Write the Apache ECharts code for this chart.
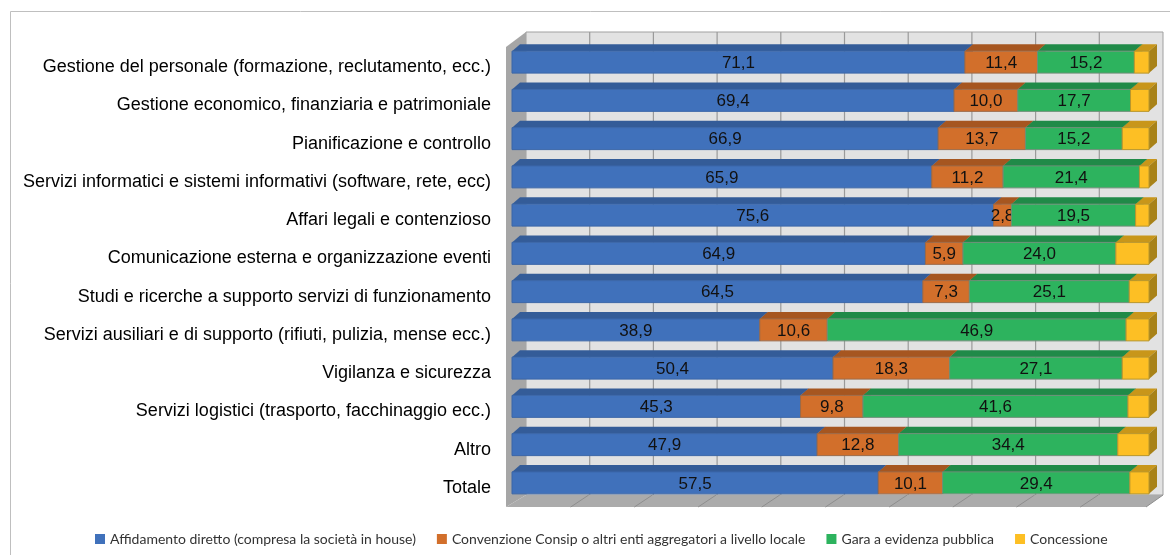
<!DOCTYPE html>
<html><head><meta charset="utf-8">
<script src="https://cdn.jsdelivr.net/npm/echarts@6/dist/echarts.min.js"></script>
<style>html,body{margin:0;padding:0;background:#fff}#c{width:1170px;height:555px}</style>
</head><body><div id="c"></div>
<script>
const categories = [
  "Gestione del personale (formazione, reclutamento, ecc.)",
  "Gestione economico, finanziaria e patrimoniale",
  "Pianificazione e controllo",
  "Servizi informatici e sistemi informativi (software, rete, ecc)",
  "Affari legali e contenzioso",
  "Comunicazione esterna e organizzazione eventi",
  "Studi e ricerche a supporto servizi di funzionamento",
  "Servizi ausiliari e di supporto (rifiuti, pulizia, mense ecc.)",
  "Vigilanza e sicurezza",
  "Servizi logistici (trasporto, facchinaggio ecc.)",
  "Altro",
  "Totale"
];
const affidamento = [71.1, 69.4, 66.9, 65.9, 75.6, 64.9, 64.5, 38.9, 50.4, 45.3, 47.9, 57.5];
const convenzione = [11.4, 10.0, 13.7, 11.2, 2.8, 5.9, 7.3, 10.6, 18.3, 9.8, 12.8, 10.1];
const gara        = [15.2, 17.7, 15.2, 21.4, 19.5, 24.0, 25.1, 46.9, 27.1, 41.6, 34.4, 29.4];
const concessione = [2.3, 2.9, 4.2, 1.5, 2.1, 5.2, 3.1, 3.6, 4.2, 3.3, 4.9, 3.0];
const seriesNames = [
  "Affidamento diretto (compresa la società in house)",
  "Convenzione Consip o altri enti aggregatori a livello locale",
  "Gara a evidenza pubblica",
  "Concessione"
];
const xTicks = [0, 10, 20, 30, 40, 50, 60, 70, 80, 90, 100];

const allValues = [affidamento, convenzione, gara, concessione];
const frontCol = ['#4071BB', '#D26F2B', '#2DB35E', '#FDBF24'];
const topCol   = ['#345C98', '#A65620', '#208A48', '#C8961A'];
const sideCol  = ['#2E528A', '#94501E', '#1C7A40', '#A88218'];
const strokeCol= ['#3A66A8', '#9C6A48', '#6E8F78', '#B8962C'];
const DX = 8, DY = 7;
const WDX = 14, WDY = 11;
const LABEL_FONT = '17px "Liberation Sans", Arial, sans-serif';

function fmt(v){ return v.toFixed(1).replace('.', ','); }

function makeData(si){
  return categories.map((c, i) => {
    let s = 0;
    for (let k = 0; k < si; k++) s += allValues[k][i];
    const v = allValues[si][i];
    return [i, s, s + v, v];
  });
}

function barRender(si){
  return function(params, api){
    const cat = api.value(0), s = api.value(1), e = api.value(2), v = api.value(3);
    const p0 = api.coord([s, cat]), p1 = api.coord([e, cat]);
    const band = api.size([0, 1])[1];
    const h = band * 0.575;
    const yT = p0[1] - h / 2, yB = p0[1] + h / 2;
    const x0 = p0[0], x1 = p1[0];
    const ch = [
      {type:'polygon', shape:{points:[[x0,yT],[x0+DX,yT-DY],[x1+DX,yT-DY],[x1,yT]]}, style:{fill: topCol[si]}},
      {type:'polygon', shape:{points:[[x1,yT],[x1+DX,yT-DY],[x1+DX,yB-DY],[x1,yB]]}, style:{fill: sideCol[si]}},
      {type:'rect', shape:{x:x0, y:yT, width:x1-x0, height:h}, style:{fill: frontCol[si], stroke: strokeCol[si], lineWidth:1}}
    ];
    if (si < 3) {
      ch.push({type:'text', style:{text: fmt(v), x:(x0+x1)/2, y:(yT+yB)/2 + 1, align:'center', verticalAlign:'middle', fill:'#111', font: LABEL_FONT}});
    }
    return {type:'group', children: ch};
  };
}

function wallRender(params, api){
  const n = categories.length;
  const a = api.coord([0, 0]), b = api.coord([100, n - 1]);
  const band = api.size([0, 1])[1];
  const top = a[1] - band / 2, bottom = b[1] + band / 2;
  const xl = a[0], xr = b[0];
  const bTop = top - WDY, bBot = bottom - 7;
  const ch = [];
  ch.push({type:'rect', shape:{x: xl + WDX, y: bTop, width: xr - xl, height: bBot - bTop}, style:{fill:'#E2E2E2', stroke:'#A0A0A0', lineWidth:1}});
  xTicks.forEach(t => {
    if (t === 0 || t === 100) return;
    const x = api.coord([t, 0])[0] + WDX;
    ch.push({type:'line', shape:{x1:x, y1:bTop, x2:x, y2:bBot}, style:{stroke:'#9A9A9A', lineWidth:1.2}});
  });
  ch.push({type:'polygon', shape:{points:[[xl-6, top+4],[xl+WDX, bTop],[xl+WDX, bBot],[xl-6, bottom+5]]}, style:{fill:'#A6A6A6'}});
  ch.push({type:'polygon', shape:{points:[[xl-6, bottom+5],[xl+WDX, bBot],[xr+WDX, bBot],[xr-3, bottom+5]]}, style:{fill:'#ABABAB'}});
  xTicks.forEach(t => {
    if (t === 0 || t === 100) return;
    const x = api.coord([t, 0])[0];
    ch.push({type:'line', shape:{x1:x-5, y1:bottom+5, x2:x+WDX-1, y2:bBot}, style:{stroke:'#8E8E8E', lineWidth:1}});
  });
  ch.push({type:'line', shape:{x1:xr-3, y1:bottom+5, x2:xr+WDX, y2:bBot}, style:{stroke:'#8E8E8E', lineWidth:1}});
  return {type:'group', children: ch};
}

const series = [{
  type:'custom', name:'wall', silent:true, z:1,
  renderItem: wallRender,
  encode:{x:[1,2], y:0},
  data:[[0, 0, 100, 0]]
}];
seriesNames.forEach((nm, si) => {
  series.push({
    type:'custom', name:nm, z:2, silent:true,
    itemStyle:{color: frontCol[si]},
    renderItem: barRender(si),
    encode:{x:[1,2], y:0},
    data: makeData(si)
  });
});

const chart = echarts.init(document.getElementById('c'), null, {renderer:'canvas'});
chart.setOption({
  animation:false,
  backgroundColor:'#fff',
  graphic:[{type:'rect', shape:{x:10.5, y:11.5, width:1300, height:700}, style:{fill:'none', stroke:'#BFBFBF', lineWidth:1}, z:0}],
  grid:[
    {left:512, right:21, top:43, bottom:53, containLabel:false},
    {left:512, right:21, top:48, bottom:48, containLabel:false}
  ],
  xAxis:[
    {type:'value', min:0, max:100, interval:10, show:false, splitLine:{show:false}, gridIndex:0},
    {type:'value', min:0, max:100, interval:10, show:false, splitLine:{show:false}, gridIndex:1}
  ],
  yAxis:[
    {type:'category', inverse:true, data:categories, gridIndex:0,
      axisLine:{show:false}, axisTick:{show:false}, splitLine:{show:false}, axisLabel:{show:false}},
    {type:'category', inverse:true, data:categories, gridIndex:1,
      axisLine:{show:false}, axisTick:{show:false}, splitLine:{show:false},
      axisLabel:{margin:21, color:'#000', fontFamily:'"Liberation Sans", Arial, sans-serif', fontSize:18}}
  ],
  legend:{data:seriesNames, left:90, top:527, icon:'rect', itemWidth:10, itemHeight:10, itemGap:21,
    textStyle:{fontFamily:'Lato, sans-serif', fontSize:14, color:'#333'}},
  series: series
});
</script>
</body></html>
